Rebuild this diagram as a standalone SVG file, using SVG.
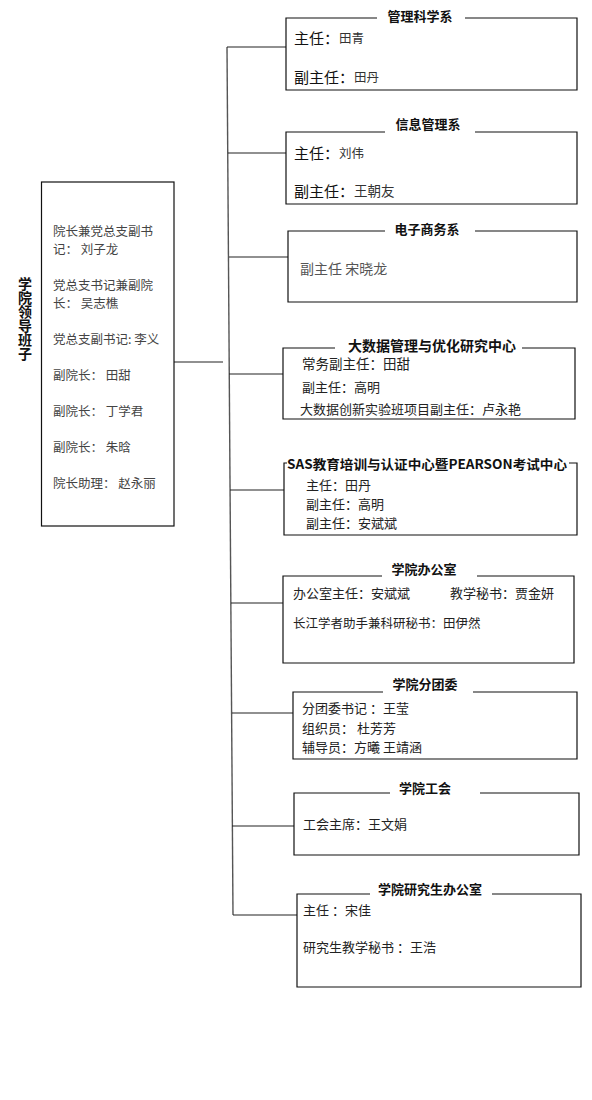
<svg xmlns="http://www.w3.org/2000/svg" width="592" height="1100" viewBox="0 0 592 1100">
<style>
text{font-family:"Noto Sans CJK SC","Liberation Sans",sans-serif;dominant-baseline:central;}
.box{fill:none;stroke:#111;stroke-width:1.2;}
.line{fill:none;stroke:#222;stroke-width:1.2;}
.trunk{fill:none;stroke:#555;stroke-width:1.4;}
.ttl{font-size:13px;font-weight:bold;fill:#111;text-anchor:middle;}
.t{font-size:13px;fill:#222;}
.lt{font-size:12.5px;fill:#444;}
.big{font-size:15px;fill:#111;}
.nm{font-size:12.5px;fill:#333;}
.vt{font-size:14px;font-weight:bold;fill:#111;writing-mode:vertical-rl;text-anchor:start;}
</style>
<rect width="592" height="1100" fill="#fff"/>
<g id="connectors">
<line class="trunk" x1="227" y1="47" x2="233" y2="915"/>
<line class="line" x1="174" y1="362" x2="223" y2="362"/>
<line class="line" x1="227" y1="47" x2="286" y2="47"/>
<line class="line" x1="228" y1="153" x2="286" y2="153"/>
<line class="line" x1="229" y1="257" x2="288" y2="257"/>
<line class="line" x1="229" y1="374" x2="283" y2="374"/>
<line class="line" x1="230" y1="490" x2="284" y2="490"/>
<line class="line" x1="231" y1="603" x2="283" y2="603"/>
<line class="line" x1="232" y1="713" x2="293" y2="713"/>
<line class="line" x1="232" y1="826" x2="294" y2="826"/>
<line class="line" x1="233" y1="915" x2="297" y2="915"/>
</g>
<g id="leadership">
<text class="vt" x="25" y="277">学院领导班子</text>
<rect class="box" x="41.5" y="182" width="132.5" height="344"/>
<text class="lt" x="53" y="230">院长兼党总支副书</text>
<text class="lt" x="53" y="248">记：  刘子龙</text>
<text class="lt" x="53" y="284">党总支书记兼副院</text>
<text class="lt" x="53" y="302">长：  吴志樵</text>
<text class="lt" x="53" y="338">党总支副书记: 李义</text>
<text class="lt" x="53" y="374">副院长：  田甜</text>
<text class="lt" x="53" y="410">副院长：  丁学君</text>
<text class="lt" x="53" y="446">副院长：  朱晗</text>
<text class="lt" x="53" y="482">院长助理：  赵永丽</text>
</g>
<g id="dept-mgmt-sci">
<path class="box" d="M377 18 H286 V90 H577 V18 H465"/>
<text class="ttl" x="420" y="15">管理科学系</text>
<text x="294" y="37"><tspan class="big">主任：</tspan><tspan class="nm">田青</tspan></text>
<text x="294" y="76"><tspan class="big">副主任：</tspan><tspan class="nm">田丹</tspan></text>
</g>
<g id="dept-info-mgmt">
<path class="box" d="M385 132 H286 V204 H577 V132 H475"/>
<text class="ttl" x="428" y="123">信息管理系</text>
<text x="294" y="152"><tspan class="big">主任：</tspan><tspan class="nm">刘伟</tspan></text>
<text x="294" y="190"><tspan class="big">副主任：</tspan><tspan class="nm" style="font-size:13.5px">王朝友</tspan></text>
</g>
<g id="dept-ecommerce">
<path class="box" d="M385 231 H288 V302 H577 V231 H475"/>
<text class="ttl" x="427" y="228">电子商务系</text>
<text x="300" y="268" style="font-size:14px;fill:#555">副主任 宋晓龙</text>
</g>
<g id="bigdata-center">
<path class="box" d="M335 348 H283 V419 H575 V348 H522"/>
<text class="ttl" x="432" y="345" style="font-size:14px">大数据管理与优化研究中心</text>
<text class="t" x="302" y="363" style="font-size:13.5px">常务副主任：田甜</text>
<text class="t" x="302" y="386">副主任：高明</text>
<text class="t" x="300" y="408">大数据创新实验班项目副主任：卢永艳</text>
</g>
<g id="sas-center">
<path class="box" d="M287 463 H284 V535 H577 V463 H569"/>
<text class="ttl" x="427" y="463" textLength="280" lengthAdjust="spacingAndGlyphs">SAS教育培训与认证中心暨PEARSON考试中心</text>
<text class="t" x="306" y="484">主任：田丹</text>
<text class="t" x="306" y="503">副主任：高明</text>
<text class="t" x="306" y="522">副主任：安斌斌</text>
</g>
<g id="college-office">
<path class="box" d="M382 576 H283 V663 H574 V576 H477"/>
<text class="ttl" x="424" y="568">学院办公室</text>
<text class="t" x="293" y="592">办公室主任：安斌斌</text>
<text class="t" x="450" y="592">教学秘书：贾金妍</text>
<text class="t" x="293" y="622" style="font-size:12.5px">长江学者助手兼科研秘书：田伊然</text>
</g>
<g id="youth-league">
<path class="box" d="M383 692 H293 V759 H577 V692 H473"/>
<text class="ttl" x="425" y="683">学院分团委</text>
<text class="t" x="302" y="707">分团委书记 ：王莹</text>
<text class="t" x="302" y="727">组织员：  杜芳芳</text>
<text class="t" x="302" y="746">辅导员：方曦  王靖涵</text>
</g>
<g id="labor-union">
<path class="box" d="M390 793 H294 V855 H579 V793 H480"/>
<text class="ttl" x="425" y="787">学院工会</text>
<text class="t" x="303" y="823">工会主席：王文娟</text>
</g>
<g id="grad-office">
<path class="box" d="M370 894 H297 V987 H581 V894 H492"/>
<text class="ttl" x="430" y="888">学院研究生办公室</text>
<text class="t" x="303" y="909">主任 ：宋佳</text>
<text class="t" x="303" y="946">研究生教学秘书 ：王浩</text>
</g>
</svg>
